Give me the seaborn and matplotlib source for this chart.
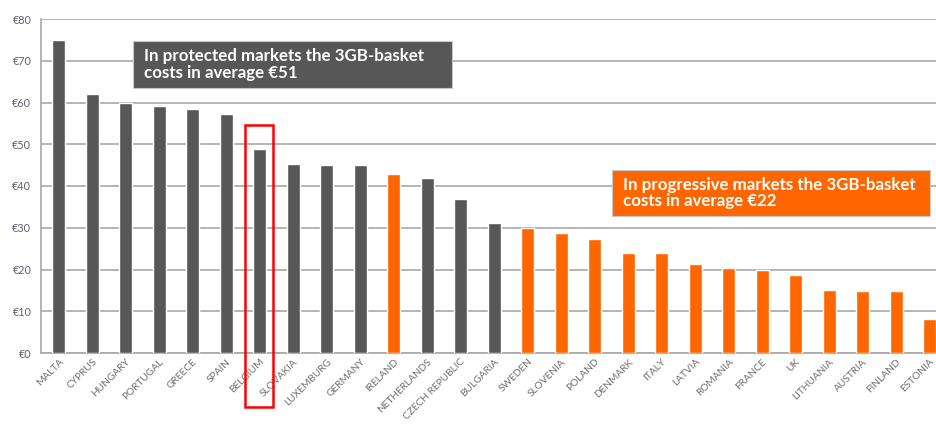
import matplotlib
matplotlib.use("Agg")
import matplotlib.pyplot as plt
import seaborn as sns
import pandas as pd
from matplotlib.patches import Rectangle

countries = ["MALTA", "CYPRUS", "HUNGARY", "PORTUGAL", "GREECE", "SPAIN", "BELGIUM",
             "SLOVAKIA", "LUXEMBURG", "GERMANY", "IRELAND", "NETHERLANDS", "CZECH REPUBLIC",
             "BULGARIA", "SWEDEN", "SLOVENIA", "POLAND", "DENMARK", "ITALY", "LATVIA",
             "ROMANIA", "FRANCE", "UK", "LITHUANIA", "AUSTRIA", "FINLAND", "ESTONIA"]
costs = [75.0, 62.0, 60.0, 59.2, 58.4, 57.3, 48.9, 45.3, 45.0, 45.0, 42.9, 41.9, 36.8,
         31.2, 29.9, 28.8, 27.2, 24.0, 24.0, 21.3, 20.4, 20.0, 18.8, 15.2, 14.9, 14.9, 8.1]
market = ["protected"] * 10 + ["progressive"] + ["protected"] * 3 + ["progressive"] * 13
y_ticks = [0, 10, 20, 30, 40, 50, 60, 70, 80]
y_tick_labels = ["€0", "€10", "€20", "€30", "€40", "€50", "€60", "€70", "€80"]

GRAY = "#575757"
ORANGE = "#FF6600"

df = pd.DataFrame({"country": countries, "cost": costs, "market": market})

sns.set_theme(style="white")
plt.rcParams['font.family'] = ['Lato', 'DejaVu Sans']

fig = plt.figure(figsize=(9.36, 4.25), dpi=100)
ax = fig.add_axes([41 / 936, 1 - 353 / 425, 1 - 41 / 936, (353 - 19) / 425])

sns.barplot(data=df, x="country", y="cost", hue="market",
            palette={"protected": GRAY, "progressive": ORANGE},
            dodge=False, width=0.39, legend=False, ax=ax, zorder=3, saturation=1)

ax.set_xlim(-0.53, 26.19)
ax.set_ylim(0, 80)
ax.set_yticks(y_ticks)
ax.set_yticklabels(y_tick_labels, fontsize=7.8, color="#5f6070")
ax.yaxis.grid(True, color="#a8a8a8", linewidth=1.2, zorder=0)
ax.set_axisbelow(True)
ax.set_xlabel("")
ax.set_ylabel("")
ax.tick_params(axis="y", length=0, pad=7)
ax.tick_params(axis="x", length=0, pad=3)
ax.set_xticks(range(len(countries)))
ax.set_xticklabels(countries, rotation=45, ha="right", rotation_mode="anchor",
                   fontsize=7.3, color="#6e6e6e")
for side in ["top", "right"]:
    ax.spines[side].set_visible(False)
ax.spines["left"].set_color("#a8a8a8")
ax.spines["left"].set_linewidth(1.2)
ax.spines["bottom"].set_color("#a8a8a8")
ax.spines["bottom"].set_linewidth(1.2)

# annotation boxes (figure pixel coords)
def fig_box(x0, y0, x1, y1, color, text):
    r = Rectangle((x0 / 936, 1 - y1 / 425), (x1 - x0) / 936, (y1 - y0) / 425,
                  transform=fig.transFigure, facecolor=color, edgecolor="#c8c8c8",
                  linewidth=0.8, zorder=5)
    fig.patches.append(r)
    fig.text((x0 + 11) / 936, 1 - ((y0 + y1) / 2) / 425, text, color="white",
             fontsize=12.2, fontweight="bold", va="center", ha="left",
             linespacing=1.05, zorder=6)

fig_box(133, 41, 452, 88, GRAY, "In protected markets the 3GB-basket\ncosts in average €51")
fig_box(612, 170, 930, 216, ORANGE, "In progressive markets the 3GB-basket\ncosts in average €22")

red = Rectangle((245 / 936, 1 - 407 / 425), 28 / 936, 282 / 425,
                transform=fig.transFigure, facecolor="none", edgecolor="#ff0000",
                linewidth=1.8, zorder=7)
fig.patches.append(red)

fig.savefig("out.png", dpi=100)
